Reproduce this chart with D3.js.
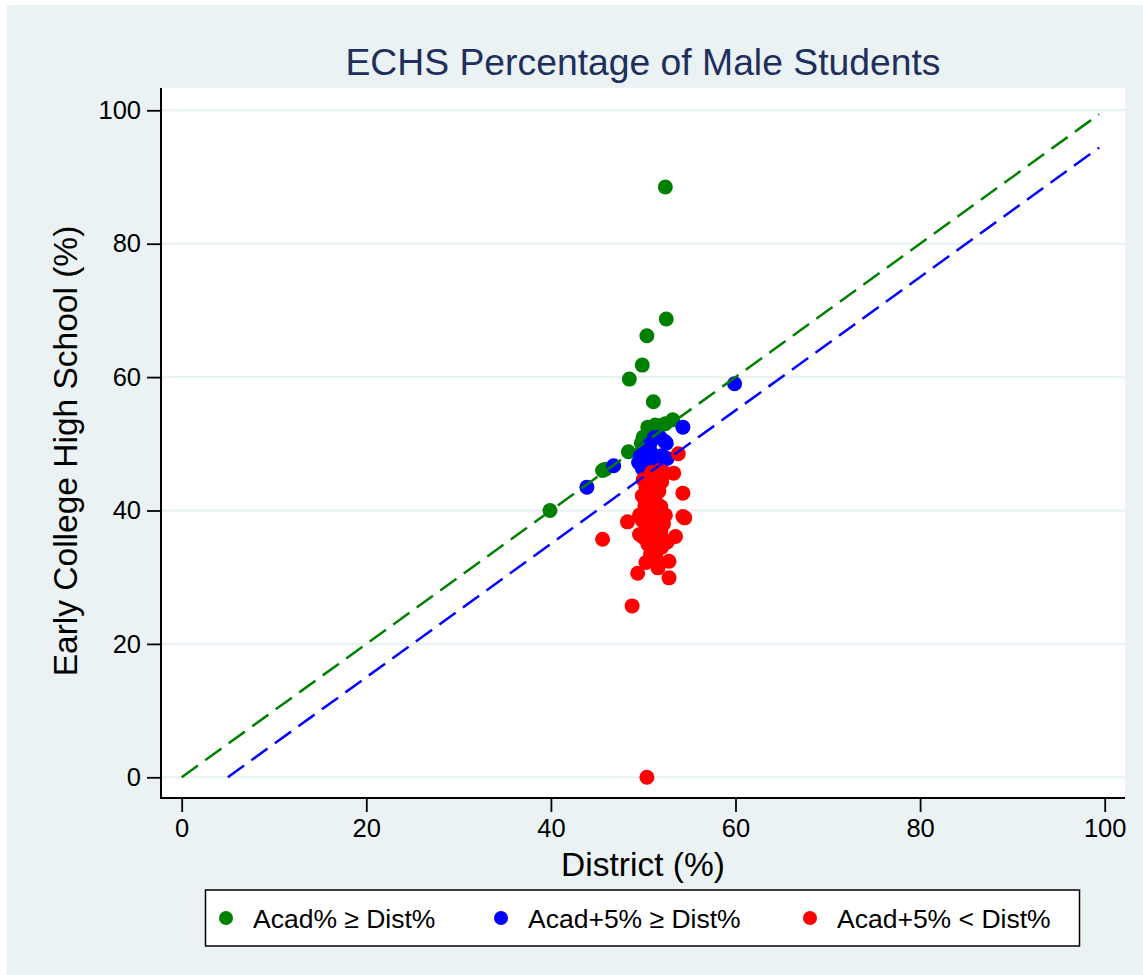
<!DOCTYPE html>
<html><head><meta charset="utf-8">
<script src="https://cdn.jsdelivr.net/npm/d3@7"></script>
<style>body{margin:0;background:#fff}text{font-family:"Liberation Sans",Arial,Helvetica,sans-serif}</style>
</head><body>
<svg id="c" width="1143" height="975"></svg>
<script>
const greenPts = [[52.4,88.5],[52.5,68.7],[50.4,66.2],[49.9,61.8],[48.5,59.7],[51.1,56.3],[50.5,52.5],[51.3,52.8],[52.4,53.0],[53.2,53.6],[50.9,52.1],[49.8,50.1],[50.2,50.4],[48.4,48.8],[45.6,46.0],[45.9,46.2],[39.9,40.0],[51.8,52.7],[50.0,51.0]];
const bluePts = [[43.9,43.5],[46.8,46.7],[59.9,59.0],[54.3,52.5],[52.3,50.4],[51.8,51.0],[51.2,50.9],[50.2,49.2],[50.1,47.6],[50.8,48.8],[52.0,48.2],[49.5,47.2],[49.9,46.3],[51.0,47.0],[52.5,50.1],[50.7,49.9],[51.5,46.6],[50.4,45.6],[52.6,47.8],[49.7,48.3],[51.4,48.0],[50.6,46.5]];
const redPts = [[50.4,0.0],[48.8,25.7],[49.4,30.6],[45.6,35.7],[48.3,38.3],[52.8,29.9],[52.8,32.4],[51.6,31.4],[53.5,36.1],[54.5,38.9],[54.3,39.1],[54.3,42.6],[53.3,45.6],[53.8,48.5],
[50.3,32.2],[50.8,33.5],[51.2,34.2],[50.5,35.0],[51.6,35.5],[50.0,36.0],[50.9,36.3],[51.9,36.8],[50.3,37.2],[51.3,37.6],[52.2,38.0],[49.9,38.5],[50.7,38.8],[51.5,39.2],[52.4,39.3],[50.1,39.9],[51.0,40.2],[51.9,40.6],[50.4,41.2],[51.3,41.5],[49.9,42.2],[50.8,42.6],[51.7,42.9],[50.3,43.5],[51.1,44.0],[52.0,44.3],[50.6,44.8],[51.5,45.2],[52.4,45.6],[50.9,45.7],[51.8,46.0],[50.5,35.9],[51.4,33.0],[52.0,34.5],[50.2,40.8],[51.6,37.9],[52.6,35.3],[50.0,44.6],[49.6,39.3],[49.6,36.4]];
const xTicks = [0,20,40,60,80,100];
const yTicks = [0,20,40,60,80,100];
const refLines = [{name:"equal", offset:0, end:99.4, color:"#008000"},{name:"plus5", offset:5, end:99.4, color:"#0000ff"}];
const legendItems = [{label:"Acad% \u2265 Dist%", color:"#008000"},{label:"Acad+5% \u2265 Dist%", color:"#0000ff"},{label:"Acad+5% < Dist%", color:"#ff0000"}];
const titleText = "ECHS Percentage of Male Students";
const xTitle = "District (%)";
const yTitle = "Early College High School (%)";

const svg = d3.select("#c");
svg.append("rect").attr("x",7).attr("y",5).attr("width",1136).attr("height",970).attr("fill","#eaf2f3");
const L=161,R=1125,T=88,B=798;
svg.append("rect").attr("x",L).attr("y",T).attr("width",R-L).attr("height",B-T).attr("fill","#fff");
const x = d3.scaleLinear().domain([0,100]).range([181.7,1104.7]);
const y = d3.scaleLinear().domain([0,100]).range([777.3,110.3]);

// grid
svg.append("g").selectAll("line").data(yTicks).join("line")
  .attr("x1",L).attr("x2",R).attr("y1",d=>y(d)).attr("y2",d=>y(d))
  .attr("stroke","#eaf2f3").attr("stroke-width",2.5);

// points
const groups = [[greenPts,"#008000"],[bluePts,"#0000ff"],[redPts,"#ff0000"]];
groups.forEach(([pts,col])=>{
  svg.append("g").selectAll("circle").data(pts).join("circle")
    .attr("cx",d=>x(d[0])).attr("cy",d=>y(d[1])).attr("r",7.5).attr("fill",col);
});

// ref lines
refLines.forEach(l=>{
  svg.append("line").attr("x1",x(l.offset)).attr("y1",y(0)).attr("x2",x(l.end)).attr("y2",y(l.end-l.offset))
    .attr("stroke",l.color).attr("stroke-width",2.5).attr("stroke-dasharray","20,9");
});

// axes
const ax = svg.append("g").attr("transform",`translate(0,${B})`).call(d3.axisBottom(x).tickValues(xTicks).tickSize(14).tickPadding(7).tickFormat(d3.format("d")));
const ay = svg.append("g").attr("transform",`translate(${L},0)`).call(d3.axisLeft(y).tickValues(yTicks).tickSize(14).tickPadding(6).tickFormat(d3.format("d")));
[ax,ay].forEach(a=>{
  a.select(".domain").remove();
  a.selectAll("line").attr("stroke","#000").attr("stroke-width",1.8);
  a.selectAll("text").attr("font-size",25.5).attr("fill","#000").attr("font-family","Liberation Sans, Arial, sans-serif");
});
svg.append("line").attr("x1",L).attr("x2",L).attr("y1",T).attr("y2",B+1).attr("stroke","#000").attr("stroke-width",2);
svg.append("line").attr("x1",L-1).attr("x2",R).attr("y1",B).attr("y2",B).attr("stroke","#000").attr("stroke-width",2);

// titles
svg.append("text").attr("x",643).attr("y",75).attr("text-anchor","middle").attr("font-size",37.3).attr("fill","#1e2f5c").text(titleText);
svg.append("text").attr("x",643).attr("y",876).attr("text-anchor","middle").attr("font-size",33.5).attr("fill","#000").text(xTitle);
svg.append("text").attr("transform","translate(77,451) rotate(-90)").attr("text-anchor","middle").attr("font-size",33.5).attr("fill","#000").text(yTitle);

// legend
svg.append("rect").attr("x",205.5).attr("y",890).attr("width",874).attr("height",56).attr("fill","#fff").attr("stroke","#000").attr("stroke-width",1.5);
const lx=[226,501,810];
legendItems.forEach((it,i)=>{
  svg.append("circle").attr("cx",lx[i]).attr("cy",918).attr("r",7).attr("fill",it.color);
  svg.append("text").attr("x",lx[i]+27).attr("y",927.5).attr("font-size",26.5).attr("fill","#000").text(it.label);
});
</script>
</body></html>
